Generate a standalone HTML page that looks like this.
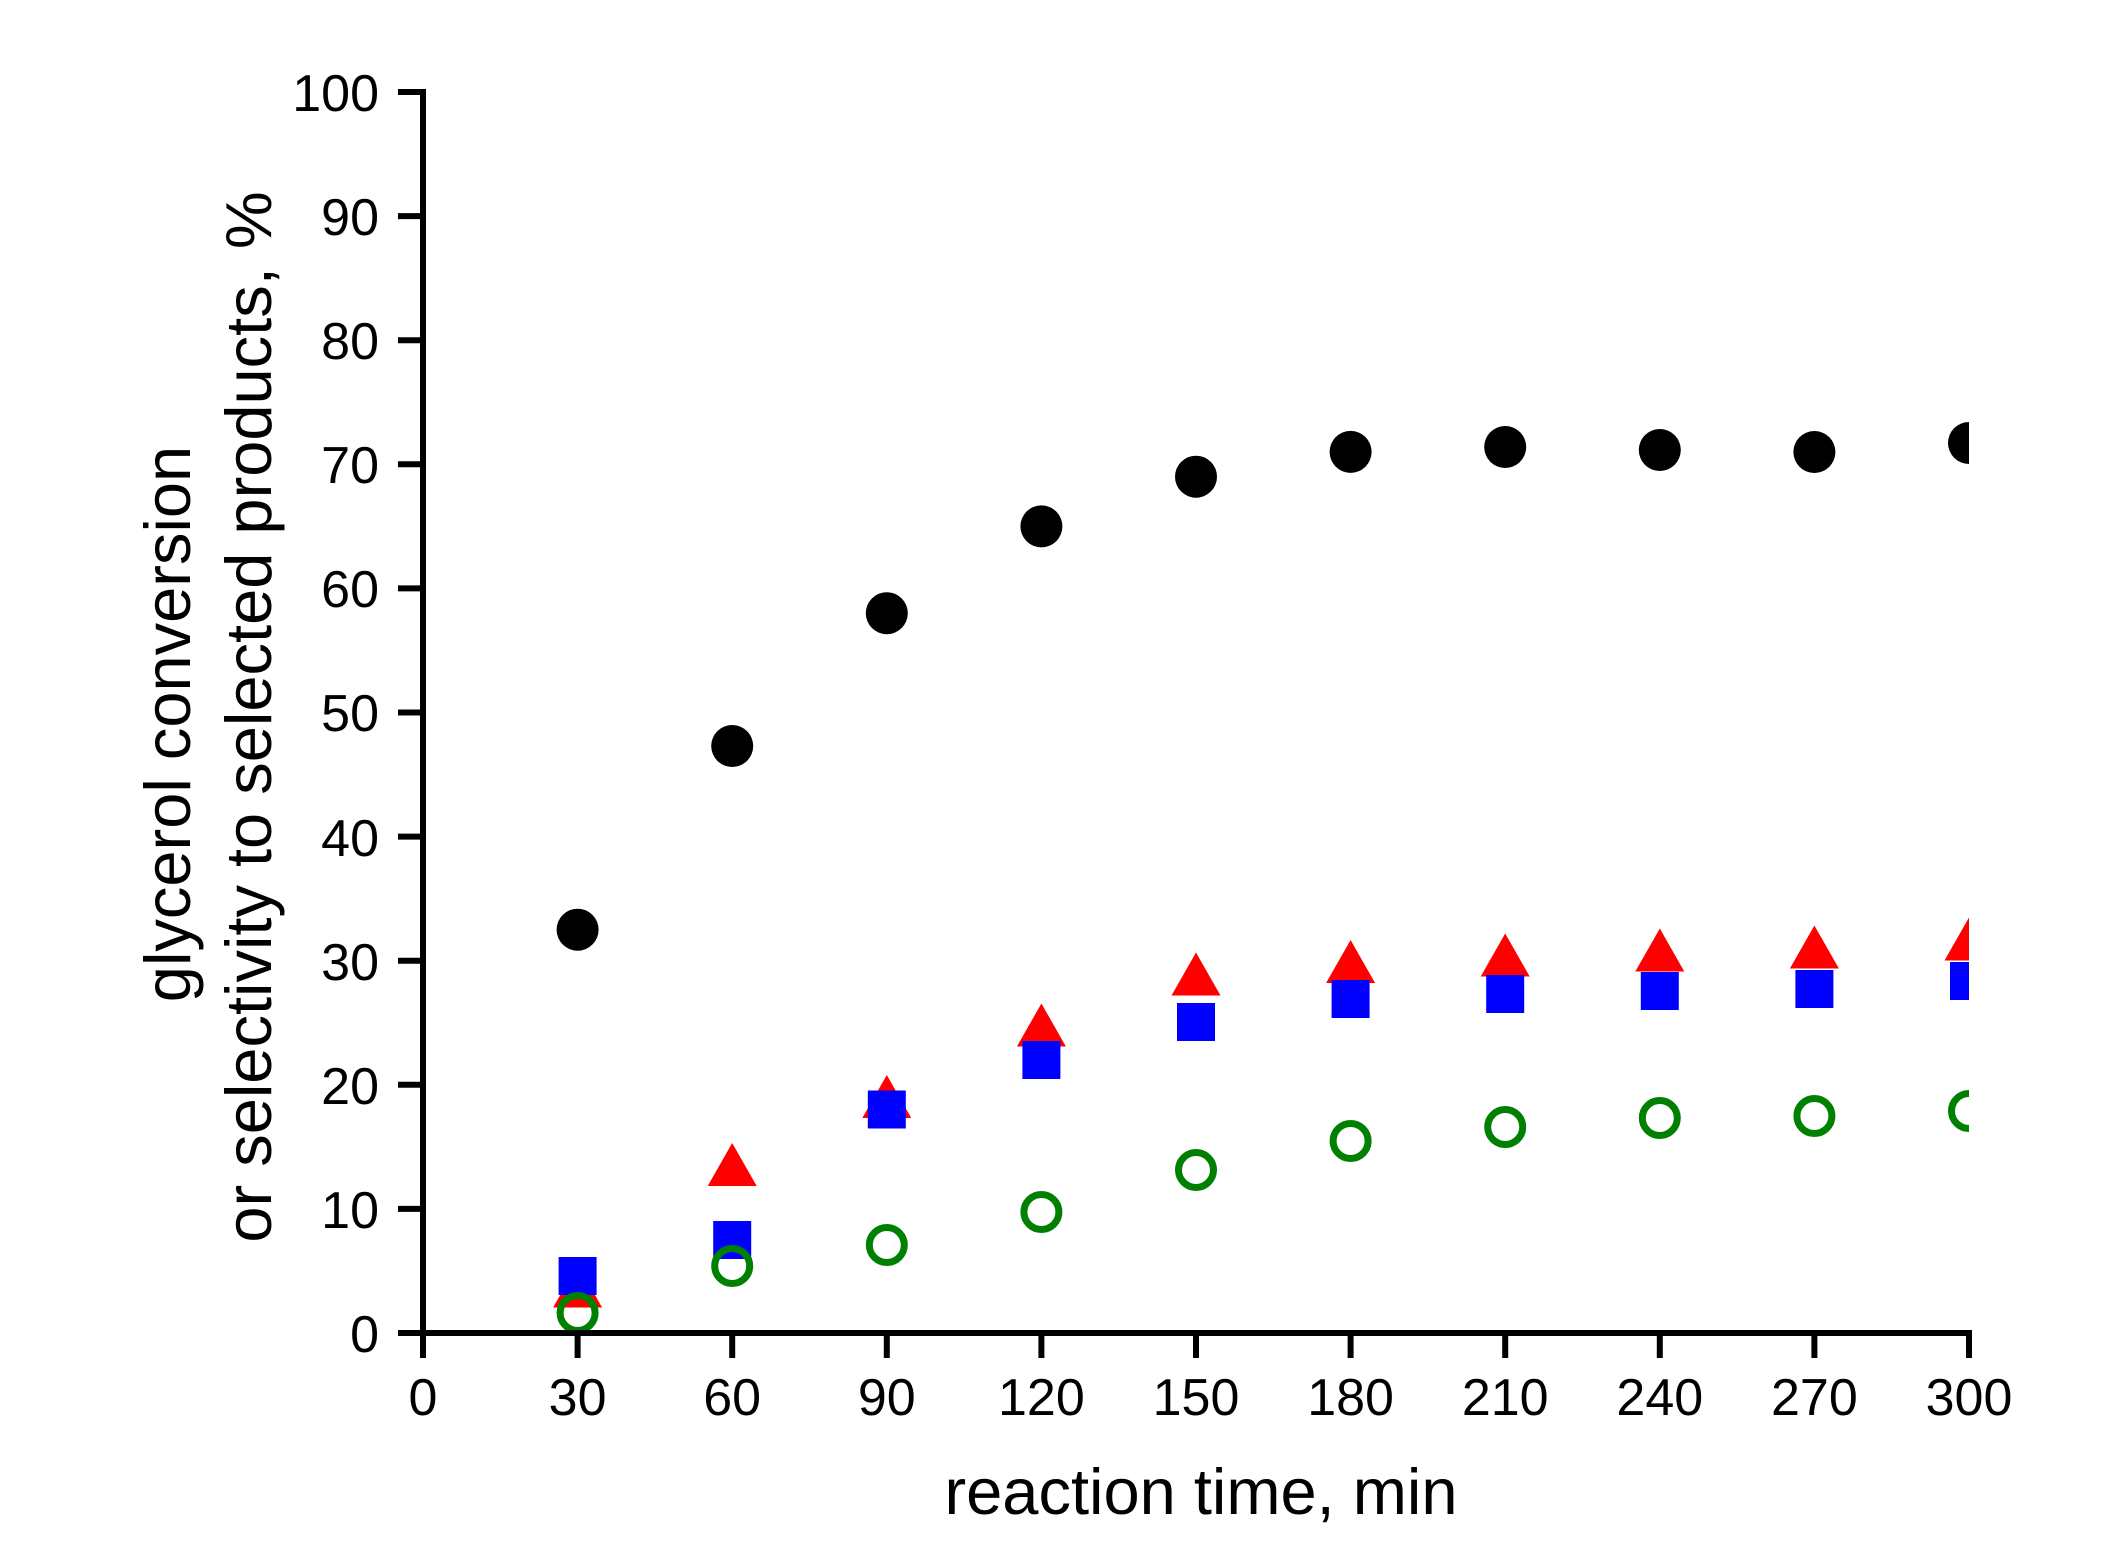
<!DOCTYPE html>
<html><head><meta charset="utf-8"><style>html,body{margin:0;padding:0;background:#fff}svg{display:block}</style></head>
<body>
<svg width="2103" height="1560" viewBox="0 0 2103 1560" xmlns="http://www.w3.org/2000/svg" font-family="Liberation Sans, Arial, sans-serif">
<rect width="2103" height="1560" fill="#fff"/>
<defs><clipPath id="c"><rect x="423" y="80" width="1546" height="1300"/></clipPath></defs>
<g clip-path="url(#c)">
<g fill="#000">
<circle cx="577.6" cy="929.7" r="21"/><circle cx="732.2" cy="746" r="21"/><circle cx="886.8" cy="613.2" r="21"/><circle cx="1041.4" cy="526.4" r="21"/><circle cx="1196" cy="476.7" r="21"/><circle cx="1350.6" cy="451.9" r="21"/><circle cx="1505.2" cy="447" r="21"/><circle cx="1659.8" cy="450" r="21"/><circle cx="1814.4" cy="452" r="21"/><circle cx="1969" cy="443" r="21"/>
</g>
<g fill="#ff0000">
<polygon points="553.1,1307.5 602.1,1307.5 577.6,1264.5"/>
<polygon points="707.7,1186 756.7,1186 732.2,1143"/>
<polygon points="862.3,1118 911.3,1118 886.8,1075"/>
<polygon points="1016.9,1046.5 1065.9,1046.5 1041.4,1003.5"/>
<polygon points="1171.5,995.5 1220.5,995.5 1196,952.5"/>
<polygon points="1326.1,983 1375.1,983 1350.6,940"/>
<polygon points="1480.7,976.5 1529.7,976.5 1505.2,933.5"/>
<polygon points="1635.3,971.5 1684.3,971.5 1659.8,928.5"/>
<polygon points="1789.9,968.5 1838.9,968.5 1814.4,925.5"/>
<polygon points="1944.5,960.5 1993.5,960.5 1969,917.5"/>
</g>
<g fill="#0000ff">
<rect x="558.6" y="1257" width="38" height="38"/>
<rect x="713.2" y="1221" width="38" height="38"/>
<rect x="867.8" y="1090.5" width="38" height="38"/>
<rect x="1022.4" y="1041" width="38" height="38"/>
<rect x="1177" y="1003" width="38" height="38"/>
<rect x="1331.6" y="980" width="38" height="38"/>
<rect x="1486.2" y="975" width="38" height="38"/>
<rect x="1640.8" y="972" width="38" height="38"/>
<rect x="1795.4" y="970" width="38" height="38"/>
<rect x="1950" y="962" width="38" height="38"/>
</g>
<g fill="none" stroke="#008000" stroke-width="7">
<circle cx="577.6" cy="1313" r="17.5"/><circle cx="732.2" cy="1266" r="17.5"/><circle cx="886.8" cy="1245" r="17.5"/><circle cx="1041.4" cy="1212" r="17.5"/><circle cx="1196" cy="1170" r="17.5"/><circle cx="1350.6" cy="1141" r="17.5"/><circle cx="1505.2" cy="1127" r="17.5"/><circle cx="1659.8" cy="1118" r="17.5"/><circle cx="1814.4" cy="1116" r="17.5"/><circle cx="1969" cy="1111" r="17.5"/>
</g>
</g>
<g stroke="#000" stroke-width="6" fill="none">
<line x1="398" y1="1333" x2="1972" y2="1333"/>
<line x1="423" y1="89" x2="423" y2="1358"/>
<line x1="577.6" y1="1333" x2="577.6" y2="1358"/><line x1="732.2" y1="1333" x2="732.2" y2="1358"/><line x1="886.8" y1="1333" x2="886.8" y2="1358"/><line x1="1041.4" y1="1333" x2="1041.4" y2="1358"/><line x1="1196" y1="1333" x2="1196" y2="1358"/><line x1="1350.6" y1="1333" x2="1350.6" y2="1358"/><line x1="1505.2" y1="1333" x2="1505.2" y2="1358"/><line x1="1659.8" y1="1333" x2="1659.8" y2="1358"/><line x1="1814.4" y1="1333" x2="1814.4" y2="1358"/><line x1="1969" y1="1330" x2="1969" y2="1358"/>
<line x1="398" y1="1208.9" x2="423" y2="1208.9"/><line x1="398" y1="1084.8" x2="423" y2="1084.8"/><line x1="398" y1="960.7" x2="423" y2="960.7"/><line x1="398" y1="836.6" x2="423" y2="836.6"/><line x1="398" y1="712.5" x2="423" y2="712.5"/><line x1="398" y1="588.4" x2="423" y2="588.4"/><line x1="398" y1="464.3" x2="423" y2="464.3"/><line x1="398" y1="340.2" x2="423" y2="340.2"/><line x1="398" y1="216.1" x2="423" y2="216.1"/><line x1="398" y1="92" x2="426" y2="92"/>
</g>
<g font-size="52" fill="#000" text-anchor="end">
<text x="379" y="1352">0</text><text x="379" y="1228">10</text><text x="379" y="1104">20</text><text x="379" y="980">30</text><text x="379" y="856">40</text><text x="379" y="731">50</text><text x="379" y="607">60</text><text x="379" y="483">70</text><text x="379" y="359">80</text><text x="379" y="235">90</text><text x="379" y="111">100</text>
</g>
<g font-size="52" fill="#000" text-anchor="middle">
<text x="423" y="1415">0</text><text x="577.6" y="1415">30</text><text x="732.2" y="1415">60</text><text x="886.8" y="1415">90</text><text x="1041.4" y="1415">120</text><text x="1196" y="1415">150</text><text x="1350.6" y="1415">180</text><text x="1505.2" y="1415">210</text><text x="1659.8" y="1415">240</text><text x="1814.4" y="1415">270</text><text x="1969" y="1415">300</text>
</g>
<text x="1201" y="1514" font-size="65" text-anchor="middle" fill="#000">reaction time, min</text>
<text transform="translate(190,724) rotate(-90)" font-size="65" text-anchor="middle" fill="#000">glycerol conversion</text>
<text transform="translate(271,717) rotate(-90)" font-size="65" text-anchor="middle" fill="#000">or selectivity to selected products, %</text>
</svg>
</body></html>
